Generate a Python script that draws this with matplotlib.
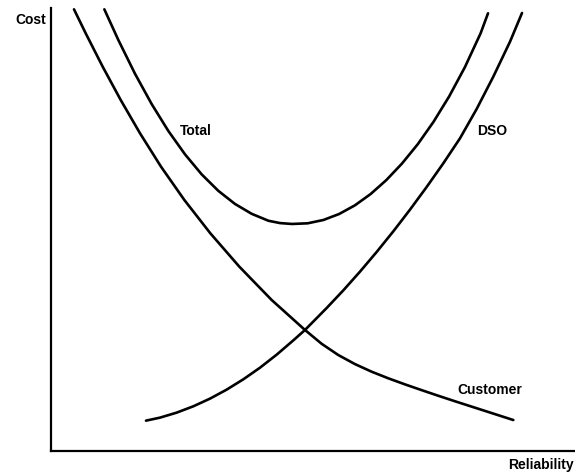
import matplotlib
matplotlib.use("Agg")
import matplotlib.pyplot as plt

# curve points (reliability, cost), both on a 0-100 scale
customer_x = [4.39, 6.62, 9.86, 13.30, 16.99, 20.99, 25.45, 30.41, 35.94, 42.11,
              48.47, 51.65, 54.83, 58.01, 61.19, 64.37, 67.55, 70.73, 73.91, 77.09,
              80.27, 83.45, 86.63, 88.23]
customer_y = [99.70, 94.29, 86.76, 79.24, 71.71, 64.19, 56.66, 49.14, 41.61, 34.09,
              27.32, 24.20, 21.66, 19.62, 17.90, 16.41, 15.04, 13.74, 12.47, 11.23,
              10.02, 8.81, 7.60, 6.99]

dso_x = [18.13, 20.80, 23.98, 27.16, 30.34, 33.52, 36.70, 39.89, 43.07, 46.25, 48.47,
         52.61, 55.79, 58.97, 62.15, 65.33, 68.51, 71.69, 74.87, 78.05, 81.23, 84.41,
         87.60, 89.89]
dso_y = [6.85, 7.53, 8.66, 10.09, 11.82, 13.85, 16.18, 18.81, 21.75, 24.98, 27.32,
         32.28, 36.27, 40.49, 44.93, 49.59, 54.48, 59.60, 64.94, 70.58, 77.20, 84.50,
         92.40, 98.88]

total_x = [10.18, 12.85, 16.03, 19.21, 22.39, 25.57, 28.75, 31.93, 35.11, 38.30, 41.48,
           43.70, 45.99, 48.99, 51.99, 54.99, 57.99, 60.99, 63.99, 66.99, 69.99, 72.99,
           75.99, 78.99, 81.99, 83.40]
total_y = [99.70, 92.78, 85.16, 78.32, 72.25, 66.97, 62.45, 58.73, 55.77, 53.54, 51.98,
           51.45, 51.25, 51.40, 52.15, 53.50, 55.45, 58.00, 61.15, 64.90, 69.25, 74.29,
           80.05, 86.65, 94.30, 98.80]

labels = ["Total", "DSO", "Customer"]
x_label = "Reliability"
y_label = "Cost"

plt.rcParams['font.family'] = ['Liberation Sans', 'DejaVu Sans']

fig = plt.figure(figsize=(5.75, 4.76), dpi=100)
ax = fig.add_axes([51 / 575, 25 / 476, 524 / 575, 443 / 476])

# the three cost curves
lw = 1.9
for xs, ys in [(customer_x, customer_y), (dso_x, dso_y), (total_x, total_y)]:
    ax.plot(xs, ys, color='black', lw=lw, solid_capstyle='round', solid_joinstyle='round')

ax.set_xlim(0, 100)
ax.set_ylim(0, 100)

# curve labels
ax.text(24.6, 72.2, labels[0], fontsize=10, fontweight='bold', va='center', ha='left')
ax.text(81.3, 72.2, labels[1], fontsize=10, fontweight='bold', va='center', ha='left')
ax.text(77.5, 13.8, labels[2], fontsize=10, fontweight='bold', va='center', ha='left')

# axis names
fig.text(46 / 575, 1 - 20 / 476, y_label, fontsize=10, fontweight='bold', ha='right', va='center')
fig.text(508 / 575, 1 - 465 / 476, x_label, fontsize=10, fontweight='bold', ha='left', va='center')

for s in ['top', 'right']:
    ax.spines[s].set_visible(False)
for s in ['left', 'bottom']:
    ax.spines[s].set_linewidth(1.6)
ax.set_xticks([])
ax.set_yticks([])

fig.savefig("out.png", dpi=100)
